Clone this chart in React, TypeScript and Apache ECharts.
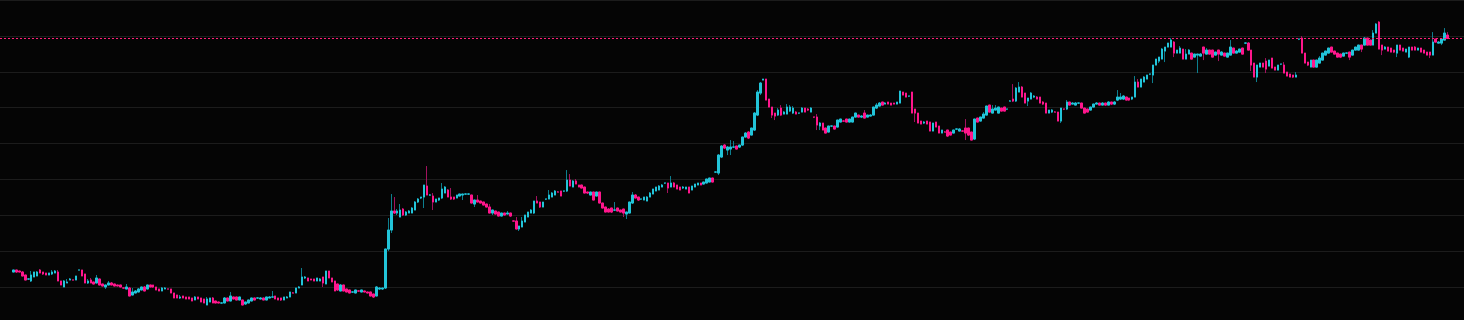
import React, { useEffect, useRef } from "react";
import * as echarts from "echarts";

// Each candle: [open, close, low, high]
const ohlc: number[][] = [
  [51,53,51,53],[53,51,50,53],[52,51,51,52],[51,47,47,52],[48,43,43,48],[44,44,43,44],[42,48,41,52],[46,51,46,51],[47,51,47,52],[53,50,50,54],
  [51,49,48,51],[50,48,48,50],[48,50,48,50],[49,51,48,53],[50,52,50,53],[51,42,42,53],[42,38,38,42],[36,42,36,43],[40,41,40,44],[43,44,43,45],
  [43,43,43,43],[43,47,43,47],[53,53,53,53],[53,47,47,53],[49,40,40,49],[40,42,39,44],[43,40,40,45],[41,39,39,41],[40,45,40,48],[44,38,38,44],
  [39,37,37,39],[36,38,34,38],[38,40,38,42],[40,38,38,41],[39,37,37,39],[38,37,37,38],[38,36,36,38],[35,35,35,35],
  [34,36,34,39],[35,27,27,36],[28,31,28,35],[30,32,30,33],[31,34,31,35],[33,36,33,36],[36,32,32,37],[34,38,34,38],[38,36,36,38],[38,36,35,38],
  [36,33,33,36],[34,32,32,34],[32,35,32,36],[34,35,34,36],[34,34,34,34],[34,30,30,34],[30,25,25,30],[28,25,25,28],[25,26,24,28],[27,25,25,27],
  [26,24,24,26],[26,24,24,26],[25,22,22,25],[23,26,23,27],[26,24,24,26],[25,21,21,25],[24,20,20,24],[18,24,18,26],[21,25,21,25],[25,20,20,26],
  [22,20,20,22],[21,20,20,21],[20,20,20,20],[20,25,20,26],[25,22,22,25],[22,27,22,31],[26,24,24,26],[26,23,23,26],[23,26,23,26],[23,18,18,23],
  [19,21,18,21],[20,23,20,23],[22,25,22,25],[25,23,23,25],[25,25,24,25],[24,25,24,26],[25,23,23,25],[23,26,23,26],[25,26,25,27],[26,26,26,32],
  [27,24,24,27],[25,23,23,25],[25,23,22,25],[23,26,23,26],[25,26,25,27],[26,31,26,31],[30,30,30,31],[30,35,30,35],[35,36,35,37],[38,46,38,55],
  [45,46,44,47],[45,42,42,45],[44,43,43,44],[44,42,42,44],[42,45,42,45],[42,44,42,45],[46,40,36,46],[39,52,39,52],[52,45,45,52],[45,41,41,45],
  [42,32,32,42],[39,33,32,39],[32,38,32,39],[38,32,32,38],[34,31,31,34],[33,30,30,33],[31,31,30,31],[30,33,30,33],[32,32,32,32],[31,33,31,33],
  [32,31,31,32],[31,30,30,31],[31,27,27,31],[29,26,25,29],[27,36,27,37],[34,35,33,36],[34,35,33,35],
  [35,74,34,74],[74,93,72,105],[93,112,90,129],[112,110,109,126],[110,112,108,114],[106,113,106,119],[114,108,107,115],[108,111,107,112],[110,112,110,113],[110,115,110,116],
  [113,121,113,122],[121,124,120,125],[125,126,124,126],[126,138,115,138],[137,128,128,157],[128,128,127,129],[127,121,113,130],[121,124,121,124],[123,125,122,125],[125,134,124,140],[130,136,130,137],
  [133,126,126,134],[126,124,123,135],[126,124,123,126],[125,128,125,128],[127,129,127,129],[128,129,123,129],[129,129,129,129],[129,129,128,129],[128,120,120,128],[119,123,116,123],
  [123,121,121,128],[122,120,120,122],[121,118,118,121],[119,116,116,119],[116,110,110,119],[110,113,108,113],[112,109,109,112],[111,107,107,111],[107,110,107,110],[110,108,108,110],
  [109,110,109,112],[110,107,106,110],[102,102,102,102],[102,94,94,106],[94,97,92,97],[96,102,96,106],[101,108,101,108],[106,111,106,111],[110,113,110,114],[110,122,109,122],
  [122,120,120,127],[121,116,115,121],[116,121,116,121],[124,124,123,124],[124,128,124,133],[126,130,126,131],[128,132,128,133],[131,131,131,132],[132,127,127,132],[132,132,131,132],
  [132,143,131,153],[143,137,137,149],[136,142,136,143],[142,139,139,144],[138,136,136,138],[138,135,135,138],[136,130,130,136],[131,130,129,131],[128,131,128,131],[131,123,123,131],
  [127,131,127,131],[131,120,120,131],[120,115,115,120],[116,111,111,116],[114,111,111,115],[115,111,110,115],[113,113,112,121],[115,112,112,115],[113,111,111,113],[114,110,106,114],
  [109,111,104,111],[110,121,110,121],[120,128,119,131],[128,125,125,129],[126,123,122,126],[124,124,123,124],[123,126,123,126],[122,126,122,127],[126,130,126,131],[129,134,129,134],
  [132,136,132,136],[133,137,133,138],[136,138,136,139],[140,140,139,140],[140,135,130,140],[136,140,136,147],[140,136,136,141],[138,134,134,138],[136,133,133,136],[135,136,134,137],[134,136,134,136],
  [136,130,130,136],[133,137,133,137],[136,139,136,139],[138,140,138,140],[140,138,138,140],[139,141,139,141],[140,144,140,144],[141,145,141,145],[145,141,141,145],[151,151,150,151],
  [150,168,148,169],[166,177,165,178],[178,175,174,179],[173,176,168,177],[174,176,168,183],[176,176,175,182],[177,174,174,177],[176,178,175,178],[178,186,177,186],[186,190,186,191],
  [191,185,184,192],[188,195,188,195],[193,210,192,211],[208,231,207,233],[230,240,228,241],[243,244,243,244],[244,223,223,244],[224,216,216,224],[216,208,205,216],[210,207,203,210],
  [208,213,207,215],[215,208,207,218],[209,211,209,212],[209,216,209,219],[212,216,211,218],[210,215,209,217],[211,209,209,212],[210,210,209,210],[211,215,211,216],[215,211,211,215],[214,213,212,215],
  [211,215,211,216],[206,206,205,206],[206,198,193,209],[197,200,193,201],[200,193,193,200],[195,190,190,195],[191,197,191,197],[197,197,196,197],[197,194,194,197],[196,203,196,203],
  [201,204,201,204],[202,202,202,203],[204,201,201,204],[201,204,201,204],[201,206,201,206],[206,210,206,210],[208,206,206,208],[206,207,205,208],[210,205,205,213],[206,208,206,208],[207,208,207,209],
  [208,216,208,216],[215,218,214,220],[217,220,217,221],[221,218,218,221],[219,220,219,221],[221,219,219,221],[220,218,218,220],[220,219,219,220],[219,221,219,221],[220,232,220,232],
  [231,228,228,231],[230,226,226,230],[227,227,226,227],[231,210,210,231],
  [214,210,201,214],[210,200,200,210],[202,199,199,202],[200,201,199,202],[202,199,199,202],[201,192,192,201],[192,200,192,200],[201,196,196,201],[197,190,190,197],[190,193,190,193],
  [191,191,191,192],[193,187,186,193],[191,188,188,191],[190,193,190,193],[194,194,193,194],[192,194,192,195],[192,192,192,193],[195,190,183,204],[195,188,187,195],[191,183,183,191],
  [184,204,183,204],[205,201,201,205],[202,206,202,206],[205,209,205,211],[208,217,208,217],[218,211,211,218],[210,214,210,218],[213,215,213,218],[210,216,210,216],[215,212,212,215],
  [216,212,212,216],[214,214,213,214],[222,222,222,223],[224,222,221,239],[222,235,221,236],[231,236,231,241],[236,226,226,237],[230,220,220,230],[222,225,217,225],[224,230,224,231],
  [226,227,225,228],[226,224,224,227],[226,220,220,226],[221,219,218,222],[220,210,210,220],[210,213,210,213],[211,213,210,214],[211,211,211,212],[211,202,202,211],[202,215,200,215],
  [214,214,213,214],[214,221,213,223],[221,218,218,221],[219,220,219,221],[218,220,218,221],[220,220,219,220],[220,215,215,220],[215,210,210,215],[214,211,211,214],[213,216,213,216],
  [216,219,216,219],[219,220,219,221],[220,218,218,220],
  [218,220,218,221],[220,218,217,220],[218,221,218,222],[221,219,218,221],[219,221,218,222],[223,226,222,233],[224,226,223,230],[224,227,223,228],[226,223,223,226],[225,223,222,225],
  [224,226,223,226],[226,241,226,247],[241,236,236,244],[236,244,236,244],[241,246,241,247],[244,248,244,248],[249,249,248,249],[248,258,240,258],[258,264,258,264],[262,266,260,266],
  [264,274,264,275],[272,276,261,276],[276,280,276,280],[276,283,276,285],[281,270,266,282],[270,273,270,273],[270,275,270,277],[274,264,264,274],
  [264,269,264,274],[269,273,269,274],[270,264,264,270],[266,269,266,269],[268,269,250,269],[267,269,267,270],[276,270,263,276],[269,273,269,275],
  [273,269,269,273],[273,266,266,273],[268,271,268,271],[273,269,262,273],[268,271,268,272],[270,267,267,270],[266,270,266,270],[268,276,268,283],[275,270,270,275],[270,272,270,273],
  [271,274,271,274],[275,269,269,275],[280,280,279,280],[280,273,273,281],[273,258,252,273],[260,246,246,260],[246,258,241,258],[256,260,256,260],[260,256,256,260],[262,254,250,265],
  [257,263,257,263],[265,255,255,265],[256,253,253,256],[253,258,253,258],[259,259,258,259],[258,250,250,261],[251,247,247,251],[249,246,246,249],[248,246,245,248],[246,248,246,251],
  [284,284,283,284],[285,270,270,287],[270,260,260,270],[261,258,257,261],[256,263,256,263],[263,256,256,263],[256,263,256,263],[260,265,260,267],[263,270,263,270],
  [268,272,268,272],[270,275,270,275],[276,271,271,276],[272,269,269,272],[270,266,266,270],[269,266,265,269],[267,270,267,270],[270,270,269,270],[271,266,263,271],
  [268,273,268,273],[273,276,273,276],[273,278,273,278],[278,274,271,278],[278,285,278,286],[285,278,278,285],[283,278,278,283],[278,290,278,293],[290,299,290,300],[301,274,274,302],
  [278,273,268,278],[274,276,274,277],[276,272,272,276],[275,271,271,275],[273,271,270,273],[270,278,266,278],[278,273,273,278],[275,272,272,275],[271,274,271,274],
  [266,276,265,276],[276,273,273,276],[276,273,273,277],[273,275,273,275],[275,271,271,275],[273,270,270,273],[271,268,268,271],[271,268,265,271],[268,281,268,291],[284,281,281,284],
  [280,281,280,282],[280,284,278,284],[283,290,283,295],[288,284.6,284,291],
];

const Y_MIN = 0;
const Y_STEP = 35.9;
const Y_MAX = 323.1;
const PAD_LEFT = 4;
const PAD_RIGHT = 5;

const UP = "#22c4d9";
const DOWN = "#ff168c";
const UP_WICK = "#0c7f8f";
const DOWN_WICK = "#a3125e";
const LAST_LINE = "#ff1f7a";

export default function App() {
  const ref = useRef<HTMLDivElement>(null);
  useEffect(() => {
    if (!ref.current) return;
    const chart = echarts.init(ref.current, null, { renderer: "svg" });
    const empty = ["-", "-", "-", "-"];
    const pads = (n: number) => Array.from({ length: n }, () => empty);
    const total = PAD_LEFT + ohlc.length + PAD_RIGHT;
    const categories = Array.from({ length: total }, (_, i) => String(i - PAD_LEFT + 1));
    const wicks = [...pads(PAD_LEFT), ...ohlc, ...pads(PAD_RIGHT)];
    const bodies = [
      ...pads(PAD_LEFT),
      ...ohlc.map(([o, c]) => [o, c, Math.min(o, c), Math.max(o, c)]),
      ...pads(PAD_RIGHT),
    ];
    const lastClose = ohlc[ohlc.length - 1][1];
    chart.setOption({
      animation: false,
      backgroundColor: "#050505",
      grid: { left: 0, right: 0, top: 0, bottom: 0 },
      tooltip: { show: false },
      xAxis: {
        type: "category",
        data: categories,
        boundaryGap: true,
        axisLine: { show: false },
        axisTick: { show: false },
        axisLabel: { show: false },
        splitLine: { show: false },
      },
      yAxis: {
        type: "value",
        min: Y_MIN,
        max: Y_MAX,
        interval: Y_STEP,
        axisLine: { show: false },
        axisTick: { show: false },
        axisLabel: { show: false },
        splitLine: { show: true, lineStyle: { color: "#1c1c1c", width: 1 } },
      },
      series: [
        {
          type: "candlestick",
          data: wicks,
          barWidth: 2,
          silent: true,
          itemStyle: {
            color: UP_WICK,
            color0: DOWN_WICK,
            borderColor: UP_WICK,
            borderColor0: DOWN_WICK,
            borderWidth: 1,
          },
        },
        {
          type: "candlestick",
          data: bodies,
          barWidth: 2,
          silent: true,
          z: 3,
          itemStyle: {
            color: UP,
            color0: DOWN,
            borderColor: UP,
            borderColor0: DOWN,
            borderWidth: 1,
          },
          markLine: {
            silent: true,
            symbol: "none",
            label: { show: false },
            emphasis: { disabled: true },
            lineStyle: { color: LAST_LINE, type: [2, 2], width: 1, opacity: 1 },
            data: [{ yAxis: lastClose }],
          },
        },
      ],
    });
    return () => chart.dispose();
  }, []);
  return (
    <div
      ref={ref}
      style={{ position: "absolute", left: 0, top: 0, width: 1464, height: 323, overflow: "hidden" }}
    />
  );
}
